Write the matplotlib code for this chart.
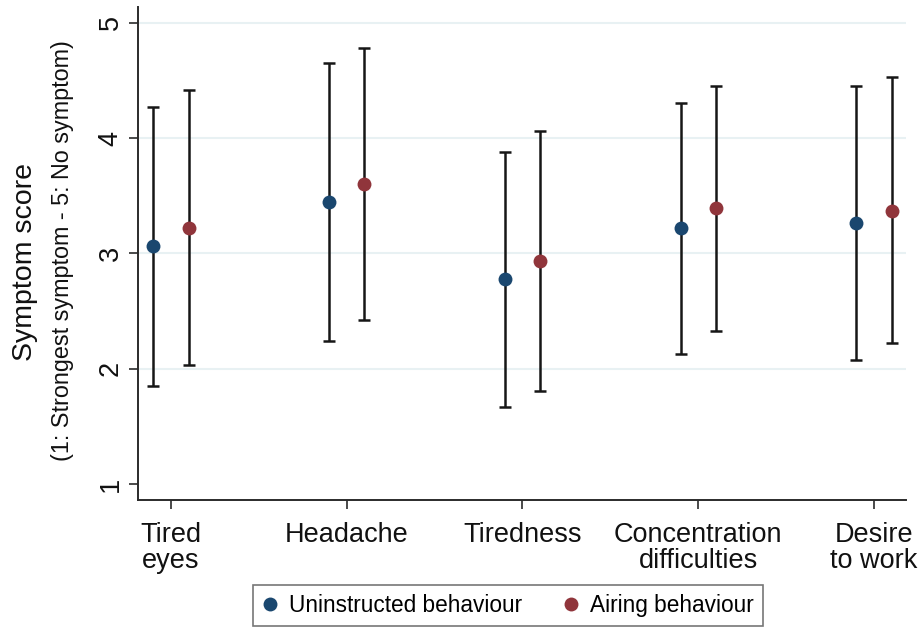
import numpy as np
import matplotlib
matplotlib.use("Agg")
import matplotlib.pyplot as plt
from matplotlib.lines import Line2D

plt.rcParams['font.family'] = ['Liberation Sans', 'DejaVu Sans']

# Symptoms (x categories)
categories = ["Tired\neyes", "Headache", "Tiredness", "Concentration\ndifficulties", "Desire\nto work"]

# Mean symptom score and interval bounds for each behaviour
uninstructed_mean = [3.06, 3.45, 2.78, 3.22, 3.26]
uninstructed_low = [1.85, 2.24, 1.67, 2.13, 2.08]
uninstructed_high = [4.27, 4.65, 3.88, 4.30, 4.45]

airing_mean = [3.22, 3.60, 2.93, 3.39, 3.37]
airing_low = [2.03, 2.42, 1.81, 2.33, 2.22]
airing_high = [4.42, 4.78, 4.06, 4.45, 4.53]

series_labels = ["Uninstructed behaviour", "Airing behaviour"]
y_ticks = [1, 2, 3, 4, 5]

NAVY = "#1a476f"
MAROON = "#90353b"
GRID = "#e8f1f3"
AXIS = "#2b2b2b"

fig = plt.figure(figsize=(9.2, 6.29), dpi=100)
ax = fig.add_axes([0.1503, 0.2051, 0.835, 0.7833])

x = np.arange(1, len(categories) + 1)
offset = 0.1

for xs, mean, lo, hi, col in [
    (x - offset, uninstructed_mean, uninstructed_low, uninstructed_high, NAVY),
    (x + offset, airing_mean, airing_low, airing_high, MAROON),
]:
    mean = np.asarray(mean)
    yerr = np.vstack([mean - np.asarray(lo), np.asarray(hi) - mean])
    ax.errorbar(xs, mean, yerr=yerr, fmt='none', ecolor='#161616',
                elinewidth=1.8, capsize=4.5, capthick=1.8, zorder=3)
    ax.plot(xs, mean, 'o', color=col, markersize=10, markeredgewidth=0, zorder=4)

ax.set_xlim(0.814, 5.185)
ax.set_ylim(0.862, 5.134)

ax.set_yticks(y_ticks)
ax.set_yticklabels([str(t) for t in y_ticks], rotation=90, va='center')
ax.set_xticks(x)
ax.set_xticklabels(categories, linespacing=1.0)

for t in y_ticks[1:]:
    ax.axhline(t, color=GRID, lw=1.5, zorder=1)

for side in ['top', 'right']:
    ax.spines[side].set_visible(False)
for side in ['left', 'bottom']:
    ax.spines[side].set_color(AXIS)
    ax.spines[side].set_linewidth(1.4)

ax.tick_params(axis='both', direction='out', length=6.5, width=1.2,
               color=AXIS, labelsize=19.5, labelcolor='#111111')
ax.tick_params(axis='x', pad=9)
ax.tick_params(axis='y', pad=4)

fig.text(25 / 920, 1 - 262 / 629, "Symptom score", rotation=90,
         ha='center', va='center', fontsize=20.5, color='#111111')
fig.text(63 / 920, 1 - 251 / 629, "(1: Strongest symptom - 5: No symptom)",
         rotation=90, ha='center', va='center', fontsize=16.8, color='#111111')

handles = [
    Line2D([], [], marker='o', linestyle='none', color=NAVY, markersize=10, markeredgewidth=0),
    Line2D([], [], marker='o', linestyle='none', color=MAROON, markersize=10, markeredgewidth=0),
]
leg = fig.legend(handles, series_labels, loc='upper center',
                 bbox_to_anchor=(508 / 920, 1 - 585 / 629), ncol=2,
                 fontsize=16.3, frameon=True, fancybox=False,
                 handlelength=0.7, handletextpad=0.5, columnspacing=1.8,
                 borderpad=0.4, borderaxespad=0)
leg.get_frame().set_edgecolor('#555555')
leg.get_frame().set_linewidth(1.2)

fig.savefig("out.png", dpi=100)
